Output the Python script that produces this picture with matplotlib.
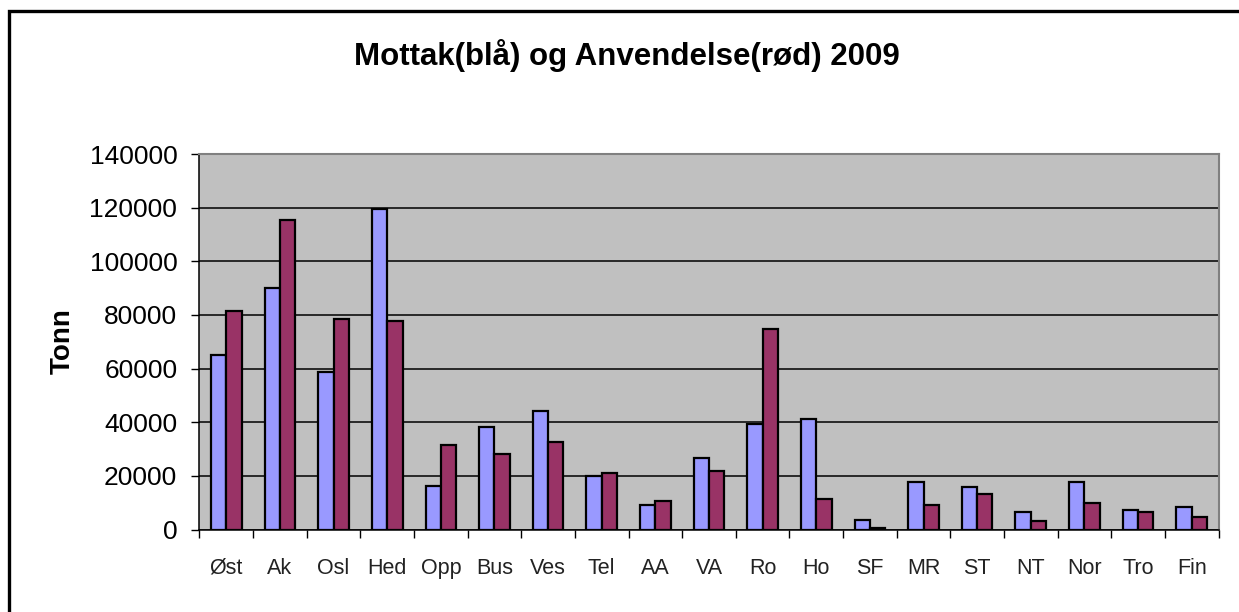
import matplotlib
matplotlib.use("Agg")
import matplotlib.pyplot as plt
from matplotlib.patches import Rectangle
import numpy as np

categories = ["Øst", "Ak", "Osl", "Hed", "Opp", "Bus", "Ves", "Tel", "AA", "VA",
              "Ro", "Ho", "SF", "MR", "ST", "NT", "Nor", "Tro", "Fin"]
mottak = [65000, 90000, 58800, 119400, 16100, 38200, 44000, 20000, 9000, 26700,
          39200, 41200, 3400, 17600, 15700, 6700, 17600, 7200, 8500]
anvendelse = [81300, 115400, 78400, 77900, 31600, 28300, 32500, 20900, 10500, 21900,
              74700, 11400, 600, 9000, 13400, 3300, 10000, 6700, 4700]
yticks = [0, 20000, 40000, 60000, 80000, 100000, 120000, 140000]

W, H = 1239, 612
fig = plt.figure(figsize=(W / 100, H / 100), dpi=100)
fam = ["Liberation Sans", "DejaVu Sans"]

L, R, T, B = 199.5, 1218.5, 154, 529.5
ax = fig.add_axes([L / W, 1 - B / H, (R - L) / W, (B - T) / H])
ax.set_facecolor("#C0C0C0")

x = np.arange(len(categories))
bw = 1 / 3.5
ax.bar(x - bw / 2, mottak, width=bw, color="#9999FF", edgecolor="black", linewidth=1.6, zorder=3)
ax.bar(x + bw / 2, anvendelse, width=bw, color="#993366", edgecolor="black", linewidth=1.6, zorder=3)

ax.set_xlim(-0.5, len(categories) - 0.5)
ax.set_ylim(0, 140000)
ax.set_yticks(yticks)
ax.set_yticklabels([str(v) for v in yticks], fontsize=19, family=fam)
ax.yaxis.grid(True, color="black", linewidth=1.1, zorder=1)
ax.set_axisbelow(True)

ax.set_xticks(x)
ax.set_xticklabels(categories, fontsize=15.5, family=fam, color="#222222")
for lab in ax.get_xticklabels():
    lab.set_va("baseline")
ax.set_xticks(np.arange(-0.5, len(categories) + 0.5, 1), minor=True)
ax.tick_params(axis="x", which="major", length=0, pad=32)
ax.tick_params(axis="x", which="minor", length=6, width=1, color="black", direction="out")
ax.tick_params(axis="y", length=6, width=1, pad=10, direction="out")

for s in ["top", "right"]:
    ax.spines[s].set_color("#808080")
    ax.spines[s].set_linewidth(1.5)
for s in ["left", "bottom"]:
    ax.spines[s].set_color("black")
    ax.spines[s].set_linewidth(1.1)

fig.text(0.506, 1 - 55 / H, "Mottak(blå) og Anvendelse(rød) 2009", ha="center", va="center",
         fontsize=22.5, fontweight="bold", family=fam)
fig.text(63 / W, 1 - 341 / H, "Tonn", ha="center", va="center", rotation=90,
         fontsize=20, fontweight="bold", family=fam)

fig.add_artist(Rectangle((9 / W, -0.1), 2, (H - 11) / H + 0.1, transform=fig.transFigure,
                         fill=False, edgecolor="black", linewidth=2.4))

fig.savefig("out.png", dpi=100, facecolor="white")
